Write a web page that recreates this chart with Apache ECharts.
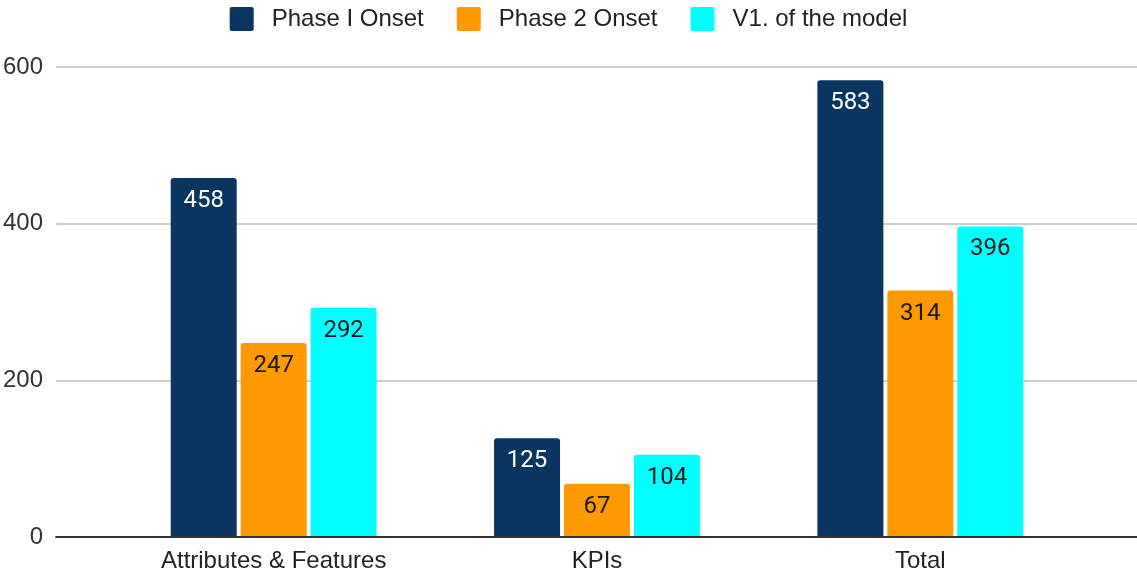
<!DOCTYPE html>
<html><head><meta charset="utf-8">
<script src="https://cdn.jsdelivr.net/npm/echarts@6/dist/echarts.min.js"></script>
<style>html,body{margin:0;padding:0;background:#fff}#c{width:1137px;height:573px}</style>
</head><body><div id="c"></div>
<script>
const categories = ["Attributes & Features", "KPIs", "Total"];
const phase1 = [458, 125, 583];
const phase2 = [247, 67, 314];
const v1model = [292, 104, 396];
const seriesNames = ["Phase I Onset", "Phase 2 Onset", "V1. of the model"];
const colors = ["#0a3560", "#ff9900", "#00ffff"];
const labelColors = ["#ffffff", "#1a1a1a", "#1a1a1a"];

const chart = echarts.init(document.getElementById('c'));
const arial = "'Liberation Sans', Arial, sans-serif";
const roboto = "Roboto, 'Noto Sans', sans-serif";
const mk = (name, data, i) => ({
  name, type: 'bar', data, xAxisIndex: 1, yAxisIndex: 1,
  barWidth: 66, barGap: '6%',
  itemStyle: { color: colors[i], borderRadius: [3, 3, 0, 0] },
  label: { show: true, position: 'insideTop', distance: 11, color: labelColors[i], fontSize: 24, fontFamily: roboto },
  emphasis: { disabled: true }
});
chart.setOption({
  animation: false,
  textStyle: { fontFamily: arial },
  legend: {
    top: 2, left: 'center', itemWidth: 24, itemHeight: 24, itemGap: 33,
    icon: 'path://M2,0 L22,0 Q24,0 24,2 L24,22 Q24,24 22,24 L2,24 Q0,24 0,22 L0,2 Q0,0 2,0 Z',
    textStyle: { fontSize: 24, color: '#222', fontFamily: arial, padding: [0, 0, 0, 13] },
    data: seriesNames
  },
  grid: [
    { left: 55, right: 0, top: 67, bottom: 36 },
    { left: 112, right: 55, top: 67, bottom: 36 }
  ],
  xAxis: [
    { type: 'category', gridIndex: 0, data: [''], axisLine: { show: true, lineStyle: { color: '#333', width: 2 } }, axisTick: { show: false }, axisLabel: { show: false } },
    { type: 'category', gridIndex: 1, data: categories, axisLine: { show: false }, axisTick: { show: false },
      axisLabel: { fontSize: 24, color: '#222', margin: 13, fontFamily: arial } }
  ],
  yAxis: [
    { type: 'value', gridIndex: 0, min: 0, max: 600, interval: 200,
      axisLabel: { fontSize: 24, color: '#333', margin: 13, fontFamily: arial },
      splitLine: { lineStyle: { color: '#cccccc', width: 2 } }, axisLine: { show: false }, axisTick: { show: false } },
    { type: 'value', gridIndex: 1, min: 0, max: 600, interval: 200, show: false, splitLine: { show: false } }
  ],
  series: [mk(seriesNames[0], phase1, 0), mk(seriesNames[1], phase2, 1), mk(seriesNames[2], v1model, 2)]
});
</script></body></html>
